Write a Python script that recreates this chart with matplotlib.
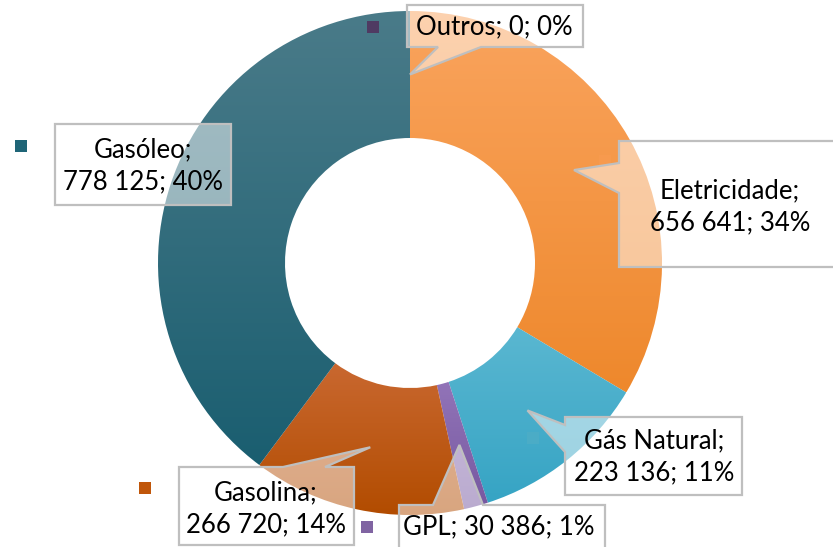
import numpy as np
import matplotlib
matplotlib.use("Agg")
import matplotlib.pyplot as plt
from matplotlib.colors import LinearSegmentedColormap
from matplotlib.patches import Polygon, Rectangle

# ---- data ----
categories = ["Outros", "Eletricidade", "Gás Natural", "GPL", "Gasolina", "Gasóleo"]
values = [0, 656641, 223136, 30386, 266720, 778125]
pct_labels = [0, 34, 11, 1, 14, 40]
colors_top = ["#5C4878", "#FAA45E", "#5AB7D1", "#9274B8", "#C96830", "#4A7B89"]
colors_bottom = ["#4A3560", "#EE882C", "#36A4C4", "#7658A0", "#B24C00", "#1A5E70"]
key_colors = ["#4F3A62", "#F79A4E", "#4BACC6", "#8064A2", "#C0560A", "#1F6577"]

W, H = 833, 547
fig = plt.figure(figsize=(W / 100, H / 100), dpi=100)
ax = fig.add_axes([0, 0, 1, 1])

def Y(y):
    return H - y

cx, cy = 410, Y(263)
R, RW = 252, 127

wedges, _ = ax.pie(values, startangle=90, counterclock=False, center=(cx, cy),
                   radius=R, wedgeprops=dict(width=RW, linewidth=0))

# gradient fills
for w, ct, cb in zip(wedges, colors_top, colors_bottom):
    if w.theta2 - w.theta1 <= 0:
        continue
    ext = w.get_path().get_extents()
    cmap = LinearSegmentedColormap.from_list("g", [cb, ct])
    grad = np.linspace(0, 1, 256).reshape(-1, 1)
    img = ax.imshow(grad, cmap=cmap, origin="lower", aspect="auto",
                    extent=(ext.x0, ext.x1, ext.y0, ext.y1), zorder=1)
    img.set_clip_path(w)
    w.set_facecolor("none")
ax.set_xlim(0, W)
ax.set_ylim(0, H)
ax.set_aspect("equal")
ax.axis("off")

def label_text(name, v, pct, two_lines):
    vs = f"{v:,}".replace(",", " ")
    sep = "\n" if two_lines else " "
    return f"{name};{sep}{vs}; {pct}%"

# pointer tip at the middle of each ring segment
def tip(i):
    w = wedges[i]
    a = np.deg2rad((w.theta1 + w.theta2) / 2)
    r = R - RW / 2
    return (cx + r * np.cos(a), cy + r * np.sin(a))

# callout layout (pixel coords, y down)
layout = {
    "Outros": dict(box=(407, 5, 583, 47), edge="bottom", base=(438, 481), text=(494, 27), two=False, key=(373, 27)),
    "Eletricidade": dict(box=(619, 141, 845, 267), edge="left", base=(163, 193), text=(730, 207), two=True, key=(605, 161)),
    "Gás Natural": dict(box=(565, 417, 742, 495), edge="left", base=(425, 452), text=(654, 457), two=True, key=(533, 438)),
    "GPL": dict(box=(399, 505, 605, 570), edge="top", base=(433, 483), text=(499, 527), two=False, key=(367, 527)),
    "Gasolina": dict(box=(179, 467, 354, 545), edge="top", base=(283, 325), text=(266, 509), two=True, key=(145, 488)),
    "Gasóleo": dict(box=(55, 124, 231, 205), edge=None, base=None, text=(143, 166), two=True, key=(21, 146)),
}

font = ["Lato", "DejaVu Sans"]
for i, name in enumerate(categories):
    L = layout[name]
    kx, ky = L["key"]
    s = 12
    ax.add_patch(Rectangle((kx - s / 2, Y(ky) - s / 2), s, s, facecolor=key_colors[i],
                           edgecolor="none", zorder=3))
    x0, y0, x1, y1 = L["box"]
    if L["edge"] == "bottom":
        b0, b1 = L["base"]
        pts = [(x0, Y(y0)), (x1, Y(y0)), (x1, Y(y1)), (b1, Y(y1)), tip(i), (b0, Y(y1)), (x0, Y(y1))]
    elif L["edge"] == "left":
        b0, b1 = L["base"]
        pts = [(x0, Y(y0)), (x1, Y(y0)), (x1, Y(y1)), (x0, Y(y1)), (x0, Y(b1)), tip(i), (x0, Y(b0))]
    elif L["edge"] == "top":
        b0, b1 = L["base"]
        pts = [(x0, Y(y0)), (b0, Y(y0)), tip(i), (b1, Y(y0)), (x1, Y(y0)), (x1, Y(y1)), (x0, Y(y1))]
    else:
        pts = [(x0, Y(y0)), (x1, Y(y0)), (x1, Y(y1)), (x0, Y(y1))]
    ax.add_patch(Polygon(pts, closed=True, facecolor=(1, 1, 1, 0.5),
                         edgecolor="#BFBFBF", linewidth=1.6, zorder=4, clip_on=False))
    tx, ty = L["text"]
    ax.text(tx, Y(ty), label_text(name, values[i], pct_labels[i], L["two"]), ha="center", va="center",
            fontsize=18.5, family=font, color="#000000", linespacing=1.35, zorder=5)

fig.savefig("out.png", dpi=100)
